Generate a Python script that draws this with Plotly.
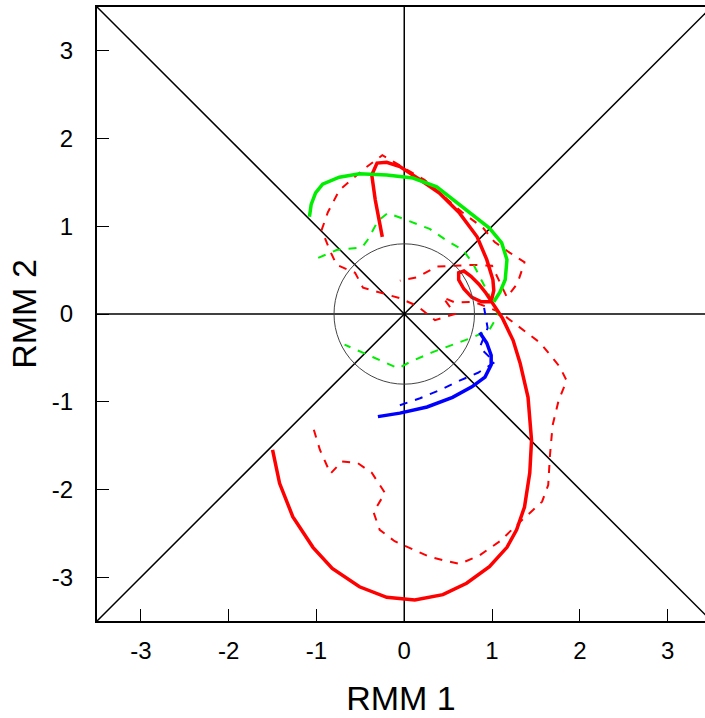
import plotly.graph_objects as go

# ---- data (RMM1, RMM2) ----
red_solid_x = [-0.25, -0.33, -0.37, -0.31, -0.20, -0.05, 0.18, 0.40, 0.63, 0.83, 0.94, 1.01, 1.02, 0.99, 0.88, 0.77, 0.68, 0.62, 0.62, 0.68, 0.76, 0.85, 0.93, 1.02, 1.12, 1.24, 1.32, 1.41, 1.45, 1.43, 1.37, 1.28, 1.17, 0.97, 0.71, 0.44, 0.12, -0.20, -0.51, -0.82, -1.04, -1.27, -1.42, -1.50]
red_solid_y = [0.88, 1.30, 1.585, 1.72, 1.73, 1.68, 1.53, 1.38, 1.15, 0.88, 0.62, 0.39, 0.27, 0.14, 0.14, 0.19, 0.285, 0.39, 0.47, 0.49, 0.43, 0.34, 0.24, 0.11, -0.05, -0.30, -0.56, -0.95, -1.44, -1.81, -2.20, -2.46, -2.66, -2.88, -3.07, -3.20, -3.26, -3.23, -3.11, -2.90, -2.66, -2.31, -1.93, -1.55]

red_dash_x = [-1.03, -0.96, -0.84, -0.71, -0.53, -0.37, -0.22, -0.35, -0.28, -0.11, 0.29, 0.63, 0.86, 1.09, 1.32, 1.57, 1.64, 1.66, 1.69, 1.76, 1.85, 1.77, 1.55, 1.28, 1.09,
              0.79, 0.58, 0.44, 0.58, 0.35, 0.15, -0.05, -0.25, -0.47, -0.56, -0.77, -0.85, -0.94, -0.87, -0.74, -0.45, -0.25,
              0.23, 0.66, 0.90, 1.03, 1.20, 1.37, 1.29, 1.17, 1.00, 0.77, 0.37, 0.15, -0.05]
red_dash_y = [-1.32, -1.55, -1.82, -1.68, -1.70, -1.81, -2.04, -2.26, -2.46, -2.59, -2.77, -2.85, -2.75, -2.59, -2.37, -2.14, -1.95, -1.61, -1.27, -0.98, -0.76, -0.60, -0.33, -0.13, 0.02,
              0.14, 0.13, 0.19, 0.00, -0.07, 0.09, 0.18, 0.24, 0.30, 0.47, 0.56, 0.73, 0.96, 1.16, 1.41, 1.66, 1.81,
              1.53, 1.16, 0.98, 0.82, 0.70, 0.59, 0.35, 0.19, 0.55, 0.56, 0.54, 0.42, 0.38]

green_solid_x = [-1.08, -1.06, -1.01, -0.93, -0.74, -0.51, -0.20, 0.10, 0.37, 0.67, 0.97, 1.11, 1.17, 1.15, 1.09, 1.02]
green_solid_y = [1.11, 1.25, 1.38, 1.48, 1.56, 1.60, 1.585, 1.55, 1.45, 1.22, 0.98, 0.81, 0.62, 0.39, 0.25, 0.14]

green_dash_x = [-0.98, -0.77, -0.48, -0.42, -0.30, -0.19, 0.03, 0.29, 0.48, 0.67, 0.78, 0.87, 0.95, 1.07, 0.97, 0.77, 0.55, 0.31, 0.06, -0.07, -0.36, -0.68]
green_dash_y = [0.64, 0.73, 0.76, 0.84, 1.06, 1.15, 1.07, 0.97, 0.84, 0.73, 0.58, 0.40, 0.25, -0.01, -0.18, -0.27, -0.35, -0.44, -0.55, -0.62, -0.49, -0.35]

blue_solid_x = [0.86, 0.94, 0.99, 0.99, 0.92, 0.77, 0.55, 0.26, -0.05, -0.30]
blue_solid_y = [-0.21, -0.33, -0.47, -0.58, -0.72, -0.83, -0.95, -1.06, -1.13, -1.17]

blue_dash_x = [-0.05, 0.18, 0.40, 0.63, 0.84, 1.03, 0.86, 0.95, 0.91]
blue_dash_y = [-1.04, -0.96, -0.87, -0.76, -0.67, -0.55, -0.38, -0.16, 0.07]

axis_lim = 3.5
x_max = 3.426
circle_r = 0.8
tick_vals = [-3, -2, -1, 0, 1, 2, 3]
tick_text = ["-3", "-2", "-1", "0", "1", "2", "3"]

fig = go.Figure()

# reference lines
ref_style = dict(color="black", width=1.5)
fig.add_trace(go.Scatter(x=[-axis_lim, axis_lim], y=[0, 0], mode="lines", line=ref_style, hoverinfo="skip"))
fig.add_trace(go.Scatter(x=[0, 0], y=[-axis_lim, axis_lim], mode="lines", line=ref_style, hoverinfo="skip"))
fig.add_trace(go.Scatter(x=[-axis_lim, axis_lim], y=[-axis_lim, axis_lim], mode="lines", line=ref_style, hoverinfo="skip"))
fig.add_trace(go.Scatter(x=[-axis_lim, axis_lim], y=[axis_lim, -axis_lim], mode="lines", line=ref_style, hoverinfo="skip"))

fig.add_shape(type="circle", xref="x", yref="y", x0=-circle_r, y0=-circle_r, x1=circle_r, y1=circle_r,
              line=dict(color="#444444", width=1))

dash_pat = "8px,8px"
fig.add_trace(go.Scatter(x=red_dash_x, y=red_dash_y, mode="lines", line=dict(color="#ff0000", width=2, dash=dash_pat)))
fig.add_trace(go.Scatter(x=green_dash_x, y=green_dash_y, mode="lines", line=dict(color="#00ee00", width=2, dash=dash_pat)))
fig.add_trace(go.Scatter(x=blue_dash_x, y=blue_dash_y, mode="lines", line=dict(color="#0000ff", width=2, dash=dash_pat)))
fig.add_trace(go.Scatter(x=red_solid_x, y=red_solid_y, mode="lines", line=dict(color="#ff0000", width=3.5)))
fig.add_trace(go.Scatter(x=green_solid_x, y=green_solid_y, mode="lines", line=dict(color="#00ee00", width=3.5)))
fig.add_trace(go.Scatter(x=blue_solid_x, y=blue_solid_y, mode="lines", line=dict(color="#0000ff", width=3.5)))

font_family = "Liberation Sans, Arial, sans-serif"
fig.update_layout(
    width=705, height=718,
    margin=dict(l=97, r=0, t=7, b=97),
    paper_bgcolor="white", plot_bgcolor="white",
    showlegend=False,
    font=dict(family=font_family, color="black", size=24),
    xaxis=dict(range=[-axis_lim, x_max], tickvals=tick_vals, ticktext=tick_text, ticks="inside", ticklen=12, tickwidth=1.2,
               tickcolor="black", showgrid=False, zeroline=False, showline=True, linecolor="black",
               linewidth=2, mirror=True, ticklabelstandoff=7,
               title=dict(text="RMM 1", font=dict(size=34), standoff=23)),
    yaxis=dict(range=[-axis_lim, axis_lim], tickvals=tick_vals, ticktext=tick_text, ticks="inside", ticklen=12, tickwidth=1.2,
               tickcolor="black", showgrid=False, zeroline=False, showline=True, linecolor="black",
               linewidth=2, mirror=False, ticklabelstandoff=17,
               title=dict(text="RMM 2", font=dict(size=34), standoff=5)),
)

fig.write_html("out.html")
